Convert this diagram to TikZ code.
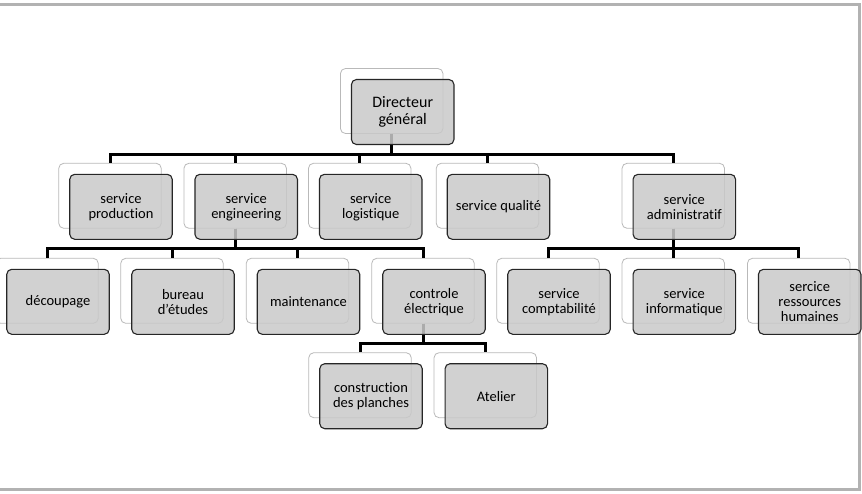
\documentclass[tikz,border=0pt]{standalone}
\usepackage{fontspec}
\setmainfont[Ligatures=NoCommon]{Carlito}
\begin{document}
\begin{tikzpicture}[x=1pt,y=-1pt,
  back/.style={draw=gray!55, fill=white, rounded corners=5pt, line width=0.8pt,
    minimum width=102.5pt, minimum height=65pt, inner sep=0pt},
  front/.style={draw=black!85, fill=gray!42, fill opacity=0.85, text opacity=1,
    rounded corners=5pt, line width=1.1pt, minimum width=102.5pt, minimum height=65pt,
    inner sep=0pt, align=center, font=\fontsize{14.5}{15}\selectfont},
  link/.style={line width=3pt}]

\useasboundingbox (0,0) rectangle (862,493);

% Page frame (top, right and bottom edges)
\draw[gray!60, line width=2.4pt] (0,4.5) -- (859.5,4.5) -- (859.5,489.5) -- (0,489.5);

% Levels of the horizontal bars
\coordinate (bus1) at (0,154);
\coordinate (bus2) at (0,248);
\coordinate (bus3) at (0,343.3);

% White boxes behind
\node[back] (dg) at (391.7,101) {};

\node[back] (prod) at (110,195.8) {};
\node[back] (eng) at (235.2,195.8) {};
\node[back] (log) at (359.7,195.8) {};
\node[back] (qual) at (487.5,195.8) {};
\node[back] (adm) at (673.3,195.8) {};

\node[back] (dec) at (47,290.8) {};
\node[back] (bur) at (172,290.8) {};
\node[back] (mai) at (297.5,290.8) {};
\node[back] (ctl) at (423,290.8) {};
\node[back] (cpt) at (548,290.8) {};
\node[back] (inf) at (673.3,290.8) {};
\node[back] (rh) at (798.7,290.8) {};

\node[back] (con) at (360,385.2) {};
\node[back] (ate) at (485.3,385.2) {};

% Connectors from the directeur
\draw[link] (dg.south) -- (dg.south |- bus1) -| (prod.north);
\draw[link] (dg.south) -- (dg.south |- bus1) -| (eng.north);
\draw[link] (dg.south) -- (dg.south |- bus1) -| (log.north);
\draw[link] (dg.south) -- (dg.south |- bus1) -| (qual.north);
\draw[link] (dg.south) -- (dg.south |- bus1) -| (adm.north);

% Connectors under service engineering
\draw[link] (eng.south) -- (eng.south |- bus2) -| (dec.north);
\draw[link] (eng.south) -- (eng.south |- bus2) -| (bur.north);
\draw[link] (eng.south) -- (eng.south |- bus2) -| (mai.north);
\draw[link] (eng.south) -- (eng.south |- bus2) -| (ctl.north);

% Connectors under service administratif
\draw[link] (adm.south) -- (adm.south |- bus2) -| (cpt.north);
\draw[link] (adm.south) -- (adm.south |- bus2) -| (inf.north);
\draw[link] (adm.south) -- (adm.south |- bus2) -| (rh.north);

% Connectors under controle electrique
\draw[link] (ctl.south) -- (ctl.south |- bus3) -| (con.north);
\draw[link] (ctl.south) -- (ctl.south |- bus3) -| (ate.north);

% Gray boxes with the texts
\node[front, font=\fontsize{16}{17.3}\selectfont] (dg-t) at ([shift={(11,11)}]dg.center) {Directeur\\général};

\node[front] (prod-t) at ([shift={(11,11)}]prod.center) {service\\production};
\node[front] (eng-t) at ([shift={(11,11)}]eng.center) {service\\engineering};
\node[front] (log-t) at ([shift={(11,11)}]log.center) {service\\logistique};
\node[front] (qual-t) at ([shift={(11,11)}]qual.center) {service qualité};
\node[front] (adm-t) at ([shift={(11,11)}]adm.center) {service\\administratif};

\node[front] (dec-t) at ([shift={(11,11)}]dec.center) {découpage};
\node[front] (bur-t) at ([shift={(11,11)}]bur.center) {bureau\\d'études};
\node[front] (mai-t) at ([shift={(11,11)}]mai.center) {maintenance};
\node[front] (ctl-t) at ([shift={(11,11)}]ctl.center) {controle\\électrique};
\node[front] (cpt-t) at ([shift={(11,11)}]cpt.center) {service\\comptabilité};
\node[front] (inf-t) at ([shift={(11,11)}]inf.center) {service\\informatique};
\node[front] (rh-t) at ([shift={(11,11)}]rh.center) {sercice\\ressources\\humaines};

\node[front] (con-t) at ([shift={(11,11)}]con.center) {construction\\des planches};
\node[front] (ate-t) at ([shift={(11,11)}]ate.center) {Atelier};

\end{tikzpicture}
\end{document}
